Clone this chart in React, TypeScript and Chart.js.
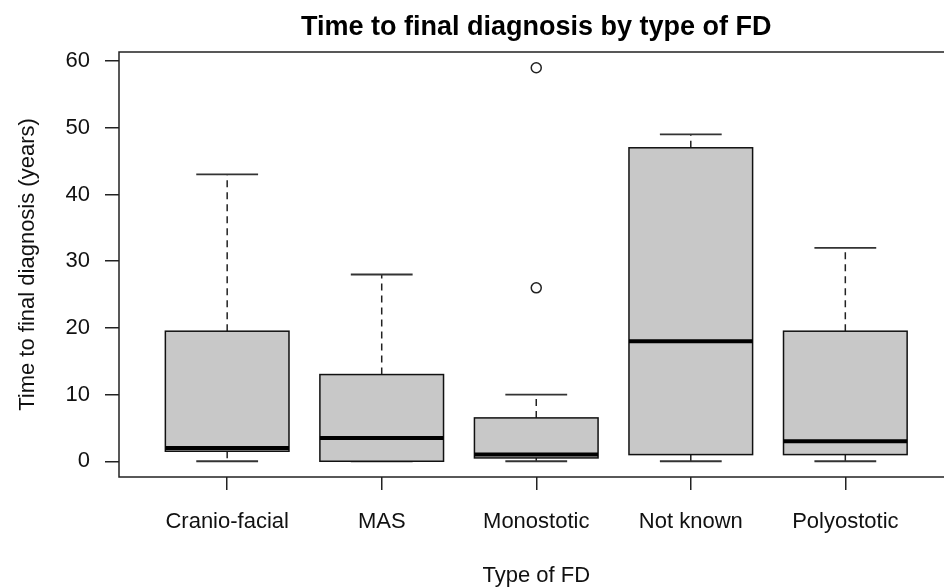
import React, { useEffect, useRef } from "react";
import { Chart, registerables } from "chart.js";

Chart.register(...registerables);

const categories = ["Cranio-facial", "MAS", "Monostotic", "Not known", "Polyostotic"];
const whiskerLow = [0, 0, 0, 0, 0];
const q1 = [1.5, 0, 0.5, 1, 1];
const median = [2, 3.5, 1, 18, 3];
const q3 = [19.5, 13, 6.5, 47, 19.5];
const whiskerHigh = [43, 28, 10, 49, 32];
const outlierCategory = [3, 3];
const outlierValue = [26, 59];
const yTicks = [0, 10, 20, 30, 40, 50, 60];

const FONT = "'Liberation Sans', Arial, Helvetica, sans-serif";

const boxPlugin = {
  id: "boxes",
  beforeDatasetsDraw(chart: any) {
    const { ctx, scales } = chart;
    const xs = scales.x;
    const ys = scales.y;
    ctx.save();
    categories.forEach((_, i) => {
      const pos = i + 1;
      const cx = xs.getPixelForValue(pos);
      const bl = xs.getPixelForValue(pos - 0.4);
      const br = xs.getPixelForValue(pos + 0.4);
      const sl = xs.getPixelForValue(pos - 0.2);
      const sr = xs.getPixelForValue(pos + 0.2);
      const yLo = ys.getPixelForValue(whiskerLow[i]);
      const yQ1 = ys.getPixelForValue(q1[i]);
      const yMed = ys.getPixelForValue(median[i]);
      const yQ3 = ys.getPixelForValue(q3[i]);
      const yHi = ys.getPixelForValue(whiskerHigh[i]);

      // whiskers (dashed)
      ctx.strokeStyle = "#222";
      ctx.lineWidth = 1.5;
      ctx.setLineDash([7, 5]);
      ctx.beginPath();
      ctx.moveTo(cx, yQ3);
      ctx.lineTo(cx, yHi);
      ctx.moveTo(cx, yQ1);
      ctx.lineTo(cx, yLo);
      ctx.stroke();
      ctx.setLineDash([]);

      // staples
      ctx.strokeStyle = "#333";
      ctx.lineWidth = 1.8;
      ctx.beginPath();
      ctx.moveTo(sl, yHi);
      ctx.lineTo(sr, yHi);
      ctx.moveTo(sl, yLo);
      ctx.lineTo(sr, yLo);
      ctx.stroke();

      // box
      ctx.fillStyle = "#c8c8c8";
      ctx.fillRect(bl, yQ3, br - bl, yQ1 - yQ3);
      ctx.strokeStyle = "#111";
      ctx.lineWidth = 1.5;
      ctx.strokeRect(bl, yQ3, br - bl, yQ1 - yQ3);

      // median
      ctx.strokeStyle = "#000";
      ctx.lineWidth = 4;
      ctx.beginPath();
      ctx.moveTo(bl, yMed);
      ctx.lineTo(br, yMed);
      ctx.stroke();
    });
    ctx.restore();
  },
  afterDraw(chart: any) {
    const { ctx, chartArea } = chart;
    ctx.save();
    ctx.strokeStyle = "#222";
    ctx.lineWidth = 1.5;
    ctx.strokeRect(chartArea.left, chartArea.top, chartArea.right - chartArea.left, chartArea.bottom - chartArea.top);
    ctx.restore();
  },
};

export default function App() {
  const canvasRef = useRef<HTMLCanvasElement | null>(null);

  useEffect(() => {
    if (!canvasRef.current) return;
    const chart = new Chart(canvasRef.current, {
      type: "scatter",
      data: {
        datasets: [
          {
            data: outlierCategory.map((c, i) => ({ x: c, y: outlierValue[i] })),
            pointRadius: 5,
            pointHoverRadius: 5,
            pointBorderColor: "#222",
            pointBackgroundColor: "rgba(0,0,0,0)",
            pointBorderWidth: 1.5,
          },
        ],
      },
      options: {
        animation: false,
        responsive: false,
        layout: { padding: { left: 0, right: 6, top: 0, bottom: 0 } },
        plugins: {
          legend: { display: false },
          tooltip: { enabled: false },
          title: {
            display: true,
            text: "Time to final diagnosis by type of FD",
            color: "#000",
            fullSize: false,
            font: { family: FONT, size: 27, weight: "bold" },
            padding: { top: 11, bottom: 8.6 },
          },
        },
        scales: {
          x: {
            type: "linear",
            min: 0.3,
            max: 5.7,
            afterBuildTicks: (scale: any) => {
              scale.ticks = categories.map((_, i) => ({ value: i + 1 }));
            },
            afterFit: (scale: any) => {
              scale.height = 110;
            },
            ticks: {
              autoSkip: false,
              maxRotation: 0,
              color: "#111",
              padding: 19,
              font: { family: FONT, size: 22 },
              callback: (v: any) => categories[Number(v) - 1] ?? "",
            },
            grid: {
              display: true,
              drawOnChartArea: false,
              drawTicks: true,
              tickLength: 13,
              color: "#222",
              lineWidth: 1.5,
            },
            border: { display: false },
            title: {
              display: true,
              text: "Type of FD",
              color: "#111",
              font: { family: FONT, size: 22 },
              padding: { top: 0, bottom: -2 },
            },
          },
          y: {
            type: "linear",
            min: -2.36,
            max: 61.36,
            afterBuildTicks: (scale: any) => {
              scale.ticks = yTicks.map((v) => ({ value: v }));
            },
            afterFit: (scale: any) => {
              scale.width = 119;
            },
            ticks: {
              color: "#111",
              padding: 15,
              font: { family: FONT, size: 22 },
              callback: (v: any) => String(v),
            },
            grid: {
              display: true,
              drawOnChartArea: false,
              drawTicks: true,
              tickLength: 14,
              color: "#222",
              lineWidth: 1.5,
            },
            border: { display: false },
            title: {
              display: true,
              text: "Time to final diagnosis (years)",
              color: "#111",
              font: { family: FONT, size: 22 },
              padding: { top: 15, bottom: 0 },
            },
          },
        },
      },
      plugins: [boxPlugin],
    });
    return () => chart.destroy();
  }, []);

  return (
    <div style={{ position: "absolute", left: 0, top: 0, width: 944, height: 587, overflow: "hidden", background: "#fff" }}>
      <canvas ref={canvasRef} width={960} height={587} style={{ display: "block" }} />
    </div>
  );
}
